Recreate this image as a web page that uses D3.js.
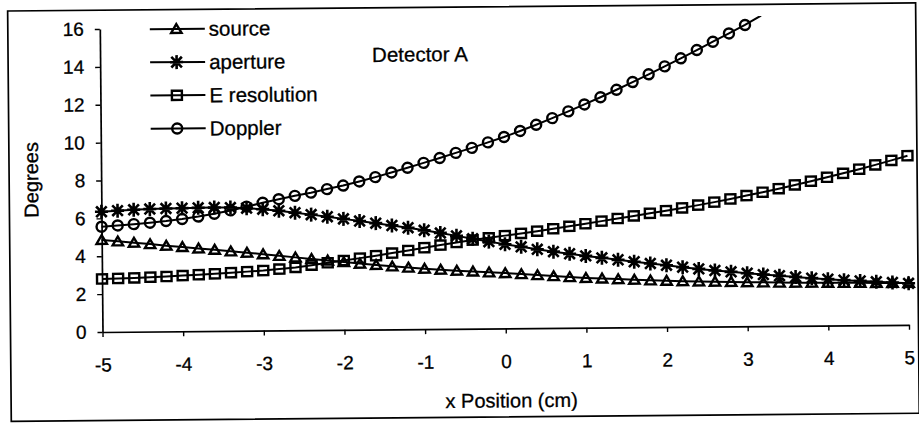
<!DOCTYPE html>
<html>
<head>
<meta charset="utf-8">
<script src="https://cdn.jsdelivr.net/npm/d3@7/dist/d3.min.js"></script>
<style>
  html, body { margin: 0; padding: 0; background: #fff; }
  svg { display: block; }
  text { font-family: "Liberation Sans", Arial, Helvetica, sans-serif; fill: #000; }
</style>
</head>
<body>
<script>
// x positions (cm) of the sampled points
const xPositions = [
  -5, -4.8, -4.6, -4.4, -4.2, -4, -3.8, -3.6, -3.4, -3.2,
  -3, -2.8, -2.6, -2.4, -2.2, -2, -1.8, -1.6, -1.4, -1.2,
  -1, -0.8, -0.6, -0.4, -0.2, 0, 0.2, 0.4, 0.6, 0.8,
  1, 1.2, 1.4, 1.6, 1.8, 2, 2.2, 2.4, 2.6, 2.8,
  3, 3.2, 3.4, 3.6, 3.8, 4, 4.2, 4.4, 4.6, 4.8, 5
];

// angular contributions (degrees)
const source = [
  4.86, 4.78, 4.70, 4.62, 4.53, 4.45, 4.37, 4.29, 4.20, 4.12,
  4.03, 3.94, 3.85, 3.76, 3.67, 3.58, 3.49, 3.41, 3.33, 3.26,
  3.19, 3.13, 3.07, 3.02, 2.97, 2.92, 2.86, 2.80, 2.74, 2.68,
  2.63, 2.59, 2.55, 2.51, 2.47, 2.44, 2.41, 2.39, 2.37, 2.35,
  2.33, 2.31, 2.29, 2.28, 2.27, 2.26, 2.25, 2.24, 2.23, 2.22, 2.21
];
const aperture = [
  6.35, 6.40, 6.44, 6.47, 6.49, 6.50, 6.51, 6.52, 6.51, 6.47,
  6.41, 6.32, 6.21, 6.10, 5.98, 5.86, 5.74, 5.62, 5.49, 5.36,
  5.22, 5.07, 4.91, 4.75, 4.59, 4.44, 4.30, 4.16, 4.03, 3.91,
  3.79, 3.68, 3.57, 3.46, 3.36, 3.26, 3.15, 3.05, 2.96, 2.88,
  2.80, 2.72, 2.65, 2.58, 2.51, 2.45, 2.39, 2.34, 2.29, 2.24, 2.19
];
const eResolution = [
  2.80, 2.82, 2.84, 2.87, 2.90, 2.94, 2.98, 3.02, 3.07, 3.12,
  3.17, 3.24, 3.32, 3.43, 3.55, 3.66, 3.78, 3.90, 4.03, 4.16,
  4.30, 4.43, 4.56, 4.68, 4.79, 4.90, 5.01, 5.12, 5.24, 5.36,
  5.49, 5.62, 5.75, 5.88, 6.01, 6.14, 6.28, 6.42, 6.57, 6.73,
  6.90, 7.07, 7.25, 7.44, 7.63, 7.83, 8.03, 8.24, 8.46, 8.69, 8.93
];
// Doppler runs off the top of the plot just past x = 3
const doppler = [
  5.56, 5.62, 5.68, 5.75, 5.83, 5.93, 6.05, 6.19, 6.36, 6.55,
  6.75, 6.93, 7.10, 7.26, 7.44, 7.62, 7.83, 8.05, 8.29, 8.53,
  8.78, 9.03, 9.29, 9.55, 9.83, 10.11, 10.42, 10.74, 11.08, 11.43,
  11.79, 12.16, 12.55, 12.95, 13.35, 13.76, 14.18, 14.61, 15.04, 15.47,
  15.91, 16.40
];

const seriesNames = ["source", "aperture", "E resolution", "Doppler"];
const seriesValues = [source, aperture, eResolution, doppler];
const seriesMarkers = ["triangle", "star", "square", "circle"];

const xTicks = [-5, -4, -3, -2, -1, 0, 1, 2, 3, 4, 5];
const yTicks = [0, 2, 4, 6, 8, 10, 12, 14, 16];

const chartTitle = "Detector A";
const xTitle = "x Position (cm)";
const yTitle = "Degrees";

// ---------------------------------------------------------------
const W = 919, H = 423;
const svg = d3.select("body").append("svg").attr("width", W).attr("height", H);

// the whole sheet sits very slightly tilted on the page
const root = svg.append("g").attr("transform", "rotate(-0.51,102.5,332)");

const x = d3.scaleLinear().domain([-5, 5]).range([102.5, 909]);
const y = d3.scaleLinear().domain([0, 16]).range([332, 29]);

// outer frame
root.append("rect")
  .attr("x", 10.5).attr("y", 10.2)
  .attr("width", 908).attr("height", 410.3)
  .attr("fill", "none").attr("stroke", "#000").attr("stroke-width", 1.7);

// plot area top edge sits a little above the 16 tick
const plotTop = y(16) - 7;
root.append("clipPath").attr("id", "plotClip")
  .append("rect").attr("x", 0).attr("y", plotTop).attr("width", W).attr("height", H);

// axes
const yAxis = root.append("g")
  .attr("transform", `translate(${x(-5)},0)`)
  .call(d3.axisLeft(y).tickValues(yTicks).tickSize(5).tickSizeOuter(0)
        .tickPadding(11).tickFormat(d => String(d)));
const xAxis = root.append("g")
  .attr("transform", `translate(0,${y(0)})`)
  .call(d3.axisBottom(x).tickValues(xTicks).tickSize(5).tickSizeOuter(0)
        .tickPadding(21).tickFormat(d => String(d)));

[xAxis, yAxis].forEach(a => {
  a.select(".domain").attr("stroke", "#000").attr("stroke-width", 1.7);
  a.selectAll(".tick line").attr("stroke", "#000").attr("stroke-width", 1.4);
  a.selectAll(".tick text").attr("fill", "#000")
    .attr("stroke", "#000").attr("stroke-width", 0.3)
    .style("font-size", "19px")
    .style("font-family", "'Liberation Sans', Arial, sans-serif");
});

// marker shapes
function markerPath(kind) {
  switch (kind) {
    case "triangle": return "M0,-4.8L5.2,4L-5.2,4Z";
    case "star": return "M-5.3,-5.3L5.3,5.3M-5.3,5.3L5.3,-5.3M0,-7L0,7M-6.5,0L6.5,0";
    case "square": return "M-5,-4.6H5V4.6H-5Z";
    case "circle": return "M5,0A5,5 0 1,1 -5,0A5,5 0 1,1 5,0Z";
  }
}

const line = d3.line().x(d => x(d[0])).y(d => y(d[1]));
const yClipValue = y.invert(plotTop);

seriesValues.forEach((vals, i) => {
  const pts = vals.map((v, k) => [xPositions[k], v]);
  const g = root.append("g");
  g.append("path")
    .attr("d", line(pts))
    .attr("clip-path", "url(#plotClip)")
    .attr("fill", "none").attr("stroke", "#000").attr("stroke-width", 2);
  g.selectAll("path.mk").data(pts.filter(p => p[1] <= yClipValue)).join("path")
    .attr("class", "mk")
    .attr("transform", p => `translate(${x(p[0])},${y(p[1])})`)
    .attr("d", markerPath(seriesMarkers[i]))
    .attr("fill", "none").attr("stroke", "#000")
    .attr("stroke-width", seriesMarkers[i] === "star" ? 2.6 : 2.4);
});

// legend
const legend = root.append("g");
seriesNames.forEach((name, i) => {
  const ly = 29.6 + i * 33.2;
  legend.append("line").attr("x1", 152.5).attr("x2", 207.5).attr("y1", ly).attr("y2", ly)
    .attr("stroke", "#000").attr("stroke-width", 2);
  legend.append("path").attr("transform", `translate(179,${ly})`)
    .attr("d", markerPath(seriesMarkers[i]))
    .attr("fill", "none").attr("stroke", "#000")
    .attr("stroke-width", seriesMarkers[i] === "star" ? 2.6 : 2.4);
  legend.append("text").attr("x", 211.5).attr("y", ly).attr("dy", "0.35em")
    .attr("stroke", "#000").attr("stroke-width", 0.3)
    .style("font-size", "20.5px").text(name);
});

// titles
root.append("text").attr("x", 374.5).attr("y", 64.3)
  .attr("stroke", "#000").attr("stroke-width", 0.3)
  .style("font-size", "20.5px").text(chartTitle);
root.append("text").attr("x", 511).attr("y", 411).attr("text-anchor", "middle")
  .attr("stroke", "#000").attr("stroke-width", 0.3)
  .style("font-size", "20px").text(xTitle);
root.append("text").attr("transform", "translate(39.5,179.3) rotate(-90)")
  .attr("text-anchor", "middle")
  .attr("stroke", "#000").attr("stroke-width", 0.3)
  .style("font-size", "20px").text(yTitle);
</script>
</body>
</html>
